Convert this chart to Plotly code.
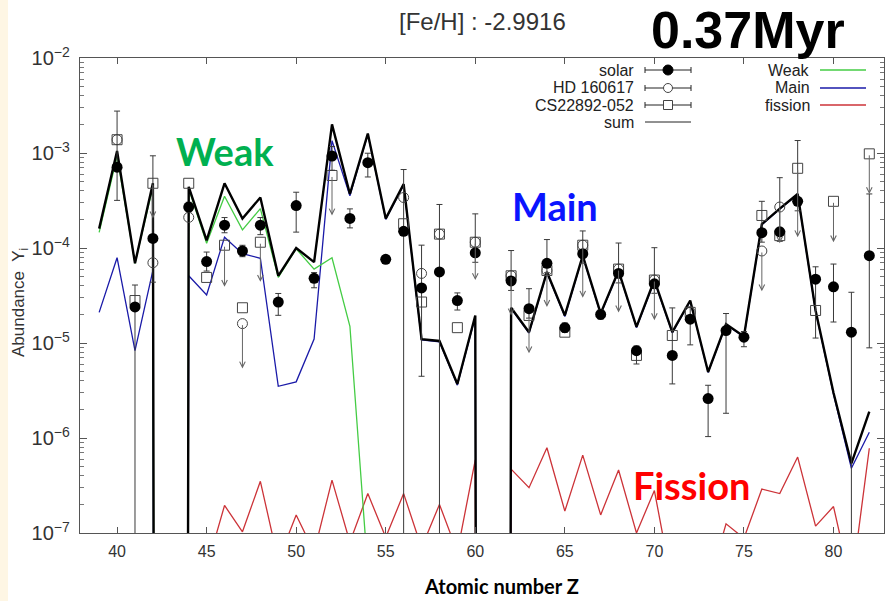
import numpy as np
import plotly.graph_objects as go

# ---------------- data ----------------
model_Z = list(range(39, 83))
sum_vals = [1.6e-4, 1.05e-3, 6.9e-5, 4.8e-4, 1e-100, 4.4e-4, 1.2e-4, 4.8e-4, 2.04e-4, 3.4e-4,
            5.1e-5, 1.0e-4, 7.1e-5, 2.0e-3, 3.7e-4, 1.6e-3, 2.04e-4, 4.7e-4, 1.1e-5, 1.05e-5,
            3.7e-6, 1.95e-5, 1e-100, 2.35e-5, 1.3e-5, 5.6e-5, 1.95e-5, 8.3e-5, 2.05e-5, 5.75e-5,
            1.48e-5, 4.6e-5, 1.3e-5, 2.8e-5, 4.95e-6, 1.58e-5, 1.17e-5, 1.78e-4, 2.6e-4, 3.7e-4,
            2.2e-5, 3.0e-6, 5.4e-7, 1.9e-6]
main_vals = [2.1e-5, 7.9e-5, 8.3e-6, 5.8e-5, 1e-100, 5.1e-5, 3.2e-5, 1.3e-4, 8.7e-5, 7.8e-5,
             3.5e-6, 3.9e-6, 1.1e-5, 1.35e-3, 3.55e-4, 1.58e-3, 2.0e-4, 4.6e-4, 1.08e-5, 1.03e-5,
             3.6e-6, 1.9e-5, 1e-100, 2.3e-5, 1.27e-5, 5.5e-5, 1.9e-5, 8.2e-5, 2.0e-5, 5.7e-5,
             1.45e-5, 4.5e-5, 1.28e-5, 2.75e-5, 4.9e-6, 1.56e-5, 1.16e-5, 1.76e-4, 2.57e-4, 3.66e-4,
             2.15e-5, 2.9e-6, 4.8e-7, 1.15e-6]
weak_Z = list(range(39, 55))
weak_vals = [1.46e-4, 9.3e-4, 6.9e-5, 4.4e-4, 1e-100, 4.2e-4, 1.12e-4, 3.5e-4, 1.55e-4, 2.6e-4,
             4.9e-5, 9.8e-5, 6.0e-5, 7.9e-5, 1.5e-5, 4e-8]
fission_Z = list(range(45, 83))
fission_vals = [4.3e-8, 1.95e-7, 1.03e-7, 3.5e-7, 5.1e-8, 1.55e-7, 6.3e-8, 3.6e-7, 8e-8, 2.6e-7,
                9e-8, 2.6e-7, 7e-8, 2.0e-7, 6.3e-8, 5.9e-7, 1e-100, 4.7e-7, 3.0e-7, 7.9e-7,
                1.7e-7, 6.6e-7, 1.55e-7, 4.6e-7, 1.0e-7, 2.8e-7, 2.8e-8, 1e-8, 2.7e-8, 1.25e-7,
                8.8e-8, 2.9e-7, 2.6e-7, 6.3e-7, 1.18e-7, 1.9e-7, 2.8e-8, 7.8e-7]

solar_Z = [40, 41, 42, 44, 45, 46, 47, 48, 49, 50, 51, 52, 53, 54, 55, 56, 57, 58, 59, 60, 62,
           63, 64, 65, 66, 67, 68, 69, 70, 71, 72, 73, 74, 75, 76, 77, 78, 79, 80, 81, 82]
solar_vals = [7.1e-4, 2.4e-5, 1.26e-4, 2.7e-4, 7.2e-5, 1.74e-4, 9.3e-5, 1.74e-4, 2.7e-5, 2.8e-4,
              4.8e-5, 9.3e-4, 2.05e-4, 7.9e-4, 7.6e-5, 1.5e-4, 3.8e-5, 5.6e-5, 2.8e-5, 8.9e-5,
              4.5e-5, 2.3e-5, 6.9e-5, 1.45e-5, 8.7e-5, 2.0e-5, 5.4e-5, 8.3e-6, 4.2e-5, 7.4e-6,
              1.78e-5, 2.6e-6, 1.35e-5, 1.15e-5, 1.45e-4, 1.48e-4, 3.1e-4, 4.7e-5, 3.9e-5, 1.3e-5,
              8.3e-5]
# error bars in dex (upper / lower)
solar_err_up = [0.59, 0.23, 0.87, 0.05, 0.1, 0.08, 0.06, 0.08, 0.09, 0.14, 0.06, 0.1, 0.1, 0.1,
                0.03, 0.65, 0.45, 0.71, 0.08, 0.41, 0.32, 0.21, 0.25, 0.05, 0.24, 0.05, 0.32,
                0.05, 0.38, 0.5, 0.13, 0.14, 0.18, 0.06, 0.33, 0.57, 0.64, 0.13, 0.24, 0.42, 0.65]
solar_err_dn = [0.35, 9, 0.46, 0.05, 0.1, 0.08, 0.06, 0.1, 0.14, 0.28, 0.1, 0.15, 0.1, 0.15,
                0.03, 9, 0.93, 9, 0.1, 0.1, 0.1, 0.1, 0.1, 0.05, 0.1, 0.05, 0.1, 0.14, 0.1,
                0.3, 0.27, 0.4, 0.87, 0.1, 0.1, 0.1, 0.1, 0.62, 0.37, 9, 0.97]

hd_Z = [40, 42, 44, 47, 56, 57, 58, 60, 62, 64, 66, 68, 70, 72, 76, 77]
hd_vals = [1.38e-3, 7e-5, 2.1e-4, 1.6e-5, 3.4e-4, 5.4e-5, 1.4e-4, 1.15e-4, 5.1e-5, 5.8e-5,
           1.07e-4, 6e-5, 4.6e-5, 2.1e-5, 9.3e-5, 2.7e-4]

cs_Z = [40, 41, 42, 44, 45, 46, 47, 48, 52, 56, 57, 58, 59, 60, 62, 63, 64, 65, 66, 68,
        69, 70, 71, 72, 76, 77, 78, 79, 80, 82]
cs_vals = [1.38e-3, 2.8e-5, 4.8e-4, 4.8e-4, 4.9e-5, 1.07e-4, 2.35e-5, 1.15e-4, 5.8e-4, 1.8e-4,
           2.7e-5, 1.4e-4, 1.45e-5, 1.15e-4, 5.1e-5, 1.95e-5, 5.8e-5, 1.3e-5, 1.07e-4, 6e-5,
           7.4e-6, 4.6e-5, 1.2e-5, 2.1e-5, 2.2e-4, 1.35e-4, 6.9e-4, 2.2e-5, 3.1e-4, 9.8e-4]

# upper limits (arrows)
limit_Z = [42, 46, 47, 48, 52, 60, 62, 63, 64, 66, 68, 70, 76, 77, 78, 80, 82]
limit_from = [4.8e-4, 1.07e-4, 1.6e-5, 1.15e-4, 5.8e-4, 1.15e-4, 5.1e-5, 1.95e-5, 5.8e-5,
              1.07e-4, 6e-5, 4.6e-5, 9.3e-5, 2.7e-4, 6.9e-4, 3.1e-4, 9.8e-4]
limit_to = [2.05e-4, 3.9e-5, 5.4e-6, 4.4e-5, 2.2e-4, 4.6e-5, 1.95e-5, 7.8e-6, 2.4e-5,
            3.0e-5, 2.1e-5, 1.74e-5, 3.5e-5, 1.12e-4, 1.3e-4, 1.15e-4, 3.7e-4]

x_ticks = [40, 45, 50, 55, 60, 65, 70, 75, 80]

# ---------------- figure ----------------
W, H = 885, 601
L, R, T, B = 80, 1, 58, 68
PW, PH = W - L - R, H - T - B


def px(xp):
    return (xp - L) / PW


def py(yp):
    return (H - B - yp) / PH


sv = np.array(solar_vals)
err_plus = sv * (10 ** np.array(solar_err_up) - 1)
err_minus = sv * (1 - 10 ** (-np.array(solar_err_dn)))

fig = go.Figure()
fig.add_trace(go.Scatter(x=fission_Z, y=fission_vals, mode="lines",
                         line=dict(color="#cc3338", width=1.3), showlegend=False))
fig.add_trace(go.Scatter(x=model_Z, y=main_vals, mode="lines",
                         line=dict(color="#1a1aa8", width=1.3), showlegend=False))
fig.add_trace(go.Scatter(x=weak_Z, y=weak_vals, mode="lines",
                         line=dict(color="#44cc44", width=1.3), showlegend=False))
fig.add_trace(go.Scatter(x=model_Z, y=sum_vals, mode="lines",
                         line=dict(color="#000000", width=2.4), showlegend=False))
fig.add_trace(go.Scatter(x=cs_Z, y=cs_vals, mode="markers",
                         marker=dict(symbol="square-open", size=10, color="#444",
                                     line=dict(width=1, color="#444")), showlegend=False))
fig.add_trace(go.Scatter(x=hd_Z, y=hd_vals, mode="markers",
                         marker=dict(symbol="circle-open", size=10, color="#444",
                                     line=dict(width=1, color="#444")), showlegend=False))
fig.add_trace(go.Scatter(x=solar_Z, y=solar_vals, mode="markers",
                         marker=dict(symbol="circle", size=11, color="#000"),
                         error_y=dict(type="data", symmetric=False, array=err_plus,
                                      arrayminus=err_minus, color="#3a3a3a",
                                      thickness=1, width=3),
                         showlegend=False))

annotations = []
for z, a, b in zip(limit_Z, limit_from, limit_to):
    annotations.append(dict(x=z, y=np.log10(b), ax=z, ay=np.log10(a), xref="x", yref="y",
                            axref="x", ayref="y", text="", showarrow=True, arrowhead=5,
                            arrowsize=1.1, arrowwidth=1, arrowcolor="#666", standoff=0))

font_main = "Liberation Sans, Arial, sans-serif"


def label(text, xp, yp, size, color, family=font_main, xanchor="center", angle=0):
    return dict(text=text, x=px(xp), y=py(yp), xref="paper", yref="paper",
                xanchor=xanchor, yanchor="middle", textangle=angle, showarrow=False,
                font=dict(family=family, size=size, color=color))


annotations += [
    label("[Fe/H] : -2.9916", 482, 21, 24, "#333"),
    label("<b>0.37Myr</b>", 748, 30, 52, "#000"),
    label("<b>Weak</b>", 225, 151, 38, "#00b050", family="Lato, sans-serif"),
    label("<b>Main</b>", 555, 206, 38, "#0a14ff", family="Lato, sans-serif"),
    label("<b>Fission</b>", 691, 485, 38, "#ff0000", family="Lato, sans-serif"),
    label("<b>Atomic number Z</b>", 501, 586, 20, "#000", family="Lato, sans-serif"),
    label("Abundance  Y<sub>i</sub>", 20, 303, 17, "#333", angle=-90),
]

# manual legends
shapes = []
leg_left = ["solar", "HD 160617", "CS22892-052", "sum"]
leg_left_y = [70, 88, 105, 122]
for name, yy in zip(leg_left, leg_left_y):
    annotations.append(label(name, 636, yy, 16, "#222", xanchor="right"))
    shapes.append(dict(type="line", xref="paper", yref="paper", x0=px(645), x1=px(691),
                       y0=py(yy), y1=py(yy), line=dict(color="#222", width=1)))
    if name != "sum":
        for xc in (645, 691):
            shapes.append(dict(type="line", xref="paper", yref="paper", x0=px(xc), x1=px(xc),
                               y0=py(yy - 3), y1=py(yy + 3), line=dict(color="#222", width=1)))
for yy, kind in zip(leg_left_y[:3], ["solid", "circle", "square"]):
    common = dict(xref="paper", yref="paper", xsizemode="pixel", ysizemode="pixel",
                  xanchor=px(668), yanchor=py(yy))
    if kind == "solid":
        shapes.append(dict(type="circle", x0=-5, x1=5, y0=-5, y1=5, fillcolor="#000",
                           line=dict(color="#000", width=1), **common))
    elif kind == "circle":
        shapes.append(dict(type="circle", x0=-4.5, x1=4.5, y0=-4.5, y1=4.5, fillcolor="#fff",
                           line=dict(color="#444", width=1), **common))
    else:
        shapes.append(dict(type="rect", x0=-4.5, x1=4.5, y0=-4.5, y1=4.5, fillcolor="#fff",
                           line=dict(color="#444", width=1), **common))

leg_right = ["Weak", "Main", "fission"]
leg_right_col = ["#44cc44", "#1a1aa8", "#cc3338"]
leg_right_y = [70, 88, 105]
for name, col, yy in zip(leg_right, leg_right_col, leg_right_y):
    annotations.append(label(name, 812, yy, 16, "#222", xanchor="right"))
    shapes.append(dict(type="line", xref="paper", yref="paper", x0=px(820), x1=px(866),
                       y0=py(yy), y1=py(yy), line=dict(color=col, width=1.3)))

# cream slide strip at the left edge
shapes.append(dict(type="rect", xref="paper", yref="paper", x0=px(0), x1=px(8),
                   y0=py(H), y1=py(0), fillcolor="#fef6e4", line=dict(width=0),
                   layer="below"))

fig.update_layout(
    width=W, height=H,
    margin=dict(l=L, r=R, t=T, b=B),
    paper_bgcolor="white", plot_bgcolor="white",
    showlegend=False,
    annotations=annotations,
    shapes=shapes,
    xaxis=dict(range=[37.93, 82.82], tickvals=x_ticks, ticks="inside", ticklen=6,
               tickcolor="#555", showline=True, linecolor="#555", linewidth=1,
               mirror="allticks", showgrid=False, zeroline=False,
               tickfont=dict(family=font_main, size=16, color="#333"),
               ticklabelstandoff=4),
    yaxis=dict(type="log", range=[-7, -2], dtick=1, exponentformat="power",
               ticks="inside", ticklen=7, tickcolor="#555", showline=True,
               linecolor="#555", linewidth=1, mirror="allticks", showgrid=False,
               zeroline=False, tickfont=dict(family=font_main, size=16, color="#333"),
               minor=dict(ticks="inside", ticklen=4, tickcolor="#777", dtick="D1"),
               ticklabelstandoff=6),
)

fig.write_html("out.html", config={"displayModeBar": False},
               post_script="document.body.style.margin='0px';")
